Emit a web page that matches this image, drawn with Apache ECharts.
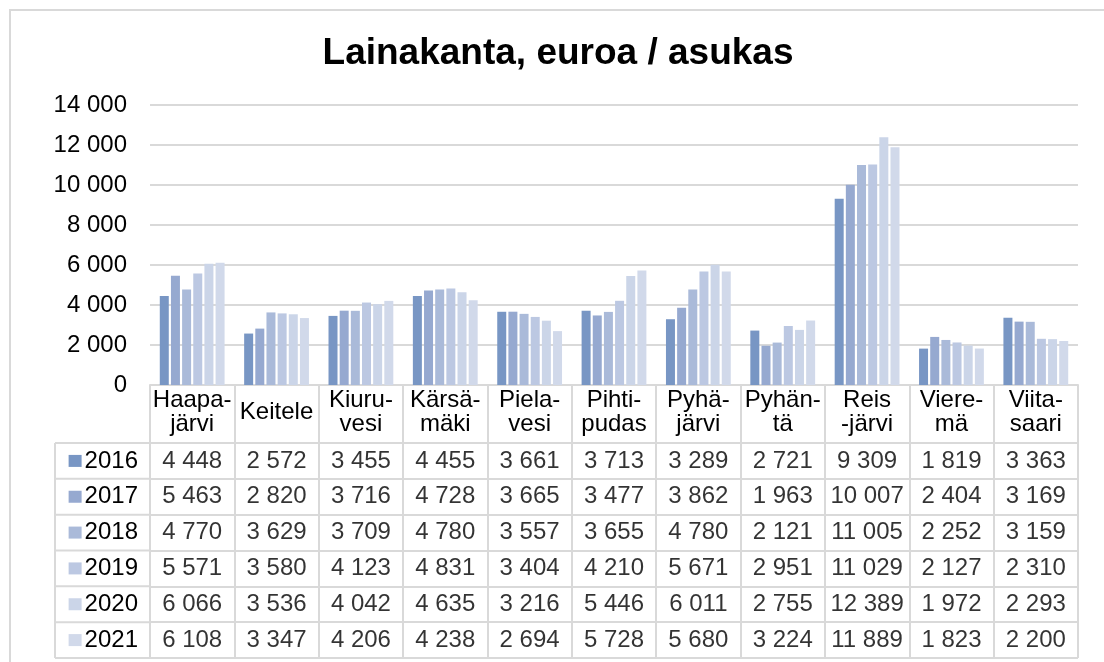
<!DOCTYPE html>
<html>
<head>
<meta charset="utf-8">
<script src="https://cdn.jsdelivr.net/npm/echarts@6/dist/echarts.min.js"></script>
<style>html,body{margin:0;padding:0;background:#fff}#c{width:1104px;height:662px}</style>
</head>
<body>
<div id="c"></div>
<script>
const categories = ['Haapa-\njärvi','Keitele','Kiuru-\nvesi','Kärsä-\nmäki','Piela-\nvesi','Pihti-\npudas','Pyhä-\njärvi','Pyhän-\ntä','Reis\n-järvi','Viere-\nmä','Viita-\nsaari'];
const years = ['2016','2017','2018','2019','2020','2021'];
const v2016 = [4448, 2572, 3455, 4455, 3661, 3713, 3289, 2721, 9309, 1819, 3363];
const v2017 = [5463, 2820, 3716, 4728, 3665, 3477, 3862, 1963, 10007, 2404, 3169];
const v2018 = [4770, 3629, 3709, 4780, 3557, 3655, 4780, 2121, 11005, 2252, 3159];
const v2019 = [5571, 3580, 4123, 4831, 3404, 4210, 5671, 2951, 11029, 2127, 2310];
const v2020 = [6066, 3536, 4042, 4635, 3216, 5446, 6011, 2755, 12389, 1972, 2293];
const v2021 = [6108, 3347, 4206, 4238, 2694, 5728, 5680, 3224, 11889, 1823, 2200];
const yTicks = [0, 2000, 4000, 6000, 8000, 10000, 12000, 14000];
const seriesValues = [v2016, v2017, v2018, v2019, v2020, v2021];
const colors = ['#7896C4','#96A9D0','#AABAD9','#BCC8E2','#CBD5E8','#D1D9EA'];

const FONT = 'Arial, "Liberation Sans", sans-serif';
const GRID = '#D9D9D9';
const FS = 24;
const fmt = v => String(v).replace(/\B(?=(\d{3})+(?!\d))/g, ' ');

// layout constants
const L = 150, R = 1078, W = 1104, H = 662;
const plotTop = 105, axisY = 385, tableTop = 443, tableBottom = 658, legendLeft = 55;
const rowH = (tableBottom - tableTop) / years.length;

const chart = echarts.init(document.getElementById('c'), null, {renderer: 'canvas'});

const barSeries = years.map((y, i) => ({
  name: y, type: 'bar', xAxisIndex: 0, yAxisIndex: 0,
  data: seriesValues[i], barWidth: 9, barGap: '24%',
  itemStyle: {color: colors[i]}, animation: false
}));

const tableData = [];
years.forEach((y, yi) => seriesValues[yi].forEach((v, ci) => tableData.push([ci, yi, v])));

const rich = {t: {fontSize: FS, fontFamily: FONT, color: '#000', padding: [0, 0, 0, 3]}};
colors.forEach((c, i) => rich['s' + i] = {width: 13, height: 12, backgroundColor: c});

const graphics = [
  {type: 'rect', shape: {x: 10, y: 10, width: W + 20, height: H + 20}, style: {fill: 'none', stroke: GRID, lineWidth: 2}, silent: true},
  {type: 'text', x: 558, y: 54, style: {text: 'Lainakanta, euroa / asukas', font: 'bold 37px ' + FONT, fill: '#000', textAlign: 'center', textVerticalAlign: 'middle'}},
  {type: 'line', shape: {x1: legendLeft, y1: tableTop, x2: legendLeft, y2: tableBottom}, style: {stroke: GRID, lineWidth: 2}}
];
for (let i = 0; i <= years.length; i++) {
  const y = tableTop + i * rowH;
  graphics.push({type: 'line', shape: {x1: legendLeft, y1: y, x2: L, y2: y}, style: {stroke: GRID, lineWidth: 2}});
}

chart.setOption({
  animation: false,
  textStyle: {fontFamily: FONT},
  grid: [
    {left: L, right: W - R, top: plotTop, bottom: H - axisY, containLabel: false},
    {left: L, right: W - R, top: tableTop, bottom: H - tableBottom, containLabel: false}
  ],
  xAxis: [
    {type: 'category', gridIndex: 0, data: categories, boundaryGap: true,
     axisLine: {show: true, lineStyle: {color: GRID, width: 2}},
     axisTick: {show: true, interval: 0, length: tableTop - axisY, lineStyle: {color: GRID, width: 2}},
     axisLabel: {interval: 0, fontSize: FS, lineHeight: 24, color: '#000', fontFamily: FONT, margin: 27, verticalAlign: 'middle', align: 'center'},
     splitLine: {show: false}},
    {type: 'category', gridIndex: 1, data: categories, boundaryGap: true,
     axisLine: {show: false}, axisTick: {show: false}, axisLabel: {show: false},
     splitLine: {show: true, interval: 0, lineStyle: {color: GRID, width: 2}}}
  ],
  yAxis: [
    {type: 'value', gridIndex: 0, min: yTicks[0], max: yTicks[yTicks.length - 1], interval: yTicks[1] - yTicks[0],
     axisLine: {show: false}, axisTick: {show: false},
     axisLabel: {fontSize: FS, color: '#000', fontFamily: FONT, margin: 23, formatter: v => fmt(v)},
     splitLine: {show: true, lineStyle: {color: GRID, width: 2}}},
    {type: 'category', gridIndex: 1, data: years, inverse: true, boundaryGap: true,
     axisLine: {show: false}, axisTick: {show: false},
     axisLabel: {margin: 12, formatter: (v, idx) => '{s' + idx + '|}{t|' + v + '}', rich: rich},
     splitLine: {show: true, interval: 0, lineStyle: {color: GRID, width: 2}}}
  ],
  series: barSeries.concat([{
    type: 'scatter', xAxisIndex: 1, yAxisIndex: 1, data: tableData,
    symbolSize: 1, itemStyle: {color: 'rgba(0,0,0,0)'}, silent: true,
    label: {show: true, position: 'inside', fontSize: FS, fontFamily: FONT, color: '#000', formatter: p => fmt(p.value[2])}
  }]),
  graphic: graphics
});
</script>
</body>
</html>
